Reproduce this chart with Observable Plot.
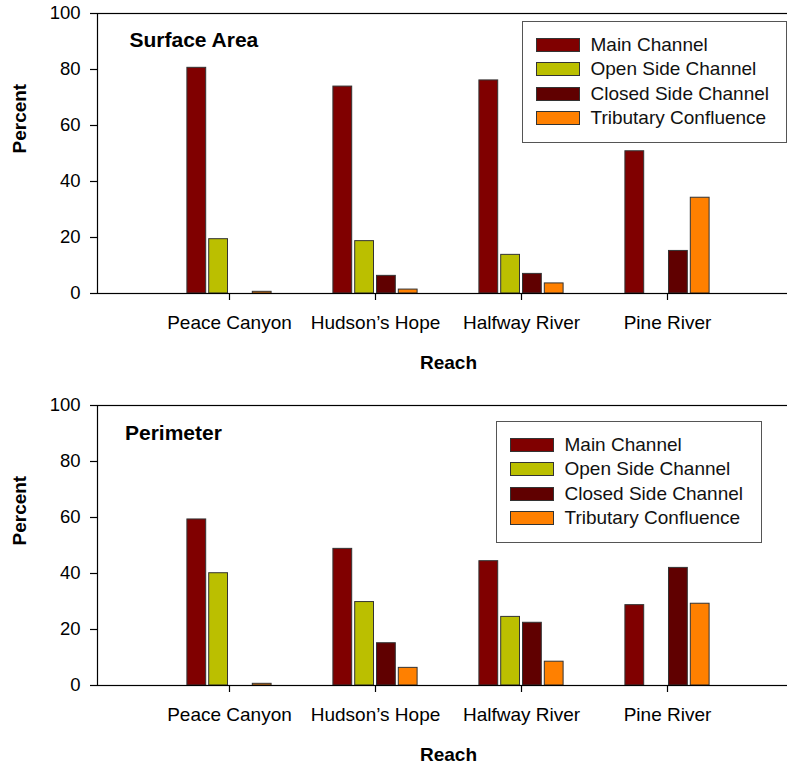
<!DOCTYPE html>
<html>
<head>
<meta charset="utf-8">
<script src="https://cdn.jsdelivr.net/npm/d3@7"></script>
<script src="https://cdn.jsdelivr.net/npm/@observablehq/plot@0.6"></script>
<style>
  html, body { margin: 0; padding: 0; background: white; overflow: hidden; }
  #root { width: 787px; height: 765px; overflow: hidden; position: relative; font-family: "Liberation Sans", Arial, sans-serif; }
  .panel { position: relative; width: 787px; overflow: hidden; }
  .panel svg { max-width: none !important; display: block; }
  .legend { position: absolute; border: 1px solid #555; background: white; box-sizing: border-box; }
  .legend .row { display: flex; align-items: center; height: 24.3px; font-size: 19px; color: #111; white-space: nowrap; }
  .legend .sw { width: 44px; height: 14px; box-sizing: border-box; border: 1px solid #333; margin-right: 11px; flex: none; }
</style>
</head>
<body>
<div id="root"></div>
<script>
const reaches = ["Peace Canyon", "Hudson\u2019s Hope", "Halfway River", "Pine River"];
const series = ["Main Channel", "Open Side Channel", "Closed Side Channel", "Tributary Confluence"];
const colors = ["#800000", "#bbbf00", "#600000", "#ff8000"];
const yTicks = [0, 20, 40, 60, 80, 100];

// Surface Area (%), per reach
const areaMain   = [80.6, 73.9, 76.1, 50.8];
const areaOpen   = [19.4, 18.7, 13.8, 0];
const areaClosed = [0, 6.3, 7.0, 15.2];
const areaTrib   = [0.6, 1.4, 3.6, 34.2];

// Perimeter (%), per reach
const perimMain   = [59.3, 48.8, 44.4, 28.7];
const perimOpen   = [40.1, 29.8, 24.5, 0];
const perimClosed = [0, 15.1, 22.4, 42.0];
const perimTrib   = [0.6, 6.3, 8.5, 29.2];

function rows(arrays) {
  const out = [];
  arrays.forEach((arr, i) => arr.forEach((v, j) => out.push({reach: reaches[j], series: series[i], value: v})));
  return out;
}

const offsets = [-32.7, -10.9, 10.9, 32.7];
const inset = 63.6;

function panel({title, data, height, marginTop, marginBottom, titleDx, titleDy, legend}) {
  const wrap = document.createElement("div");
  wrap.className = "panel";
  wrap.style.height = height + "px";
  const barMarks = series.map((s, i) => Plot.barY(data.filter(d => d.series === s && d.value > 0), {
    x: "reach", y: "value", fill: "series", stroke: "#333", strokeWidth: 1,
    insetLeft: inset, insetRight: inset, dx: offsets[i]
  }));
  const chart = Plot.plot({
    width: 799,
    height,
    marginLeft: 97,
    marginRight: 0,
    marginTop,
    marginBottom,
    style: {fontFamily: "\"Liberation Sans\", Arial, sans-serif", fontSize: "19px", color: "black", background: "transparent", maxWidth: "none"},
    x: {domain: reaches, paddingInner: 0, paddingOuter: 0.4},
    y: {domain: [0, 100]},
    color: {domain: series, range: colors},
    marks: [
      ...barMarks,
      Plot.frame({stroke: "black", strokeWidth: 1.2}),
      Plot.axisY({ticks: yTicks, tickSize: 7, tickPadding: 10, fontSize: 18.5, label: null, stroke: "black", strokeWidth: 1.2}),
      Plot.axisX({tickSize: 7, tickPadding: 15, fontSize: 19, label: null, stroke: "black", strokeWidth: 1.2}),
      Plot.text(["Percent"], {text: d => d, frameAnchor: "left", rotate: -90, dx: -78, lineAnchor: "middle", fontWeight: "bold", fontSize: 19, fill: "black"}),
      Plot.text(["Reach"], {text: d => d, frameAnchor: "bottom", dy: 69, lineAnchor: "middle", fontWeight: "bold", fontSize: 19, fill: "black"}),
      Plot.text([title], {text: d => d, frameAnchor: "top-left", textAnchor: "start", lineAnchor: "top", dx: titleDx, dy: titleDy, fontWeight: "bold", fontSize: 21, fill: "black"})
    ]
  });
  chart.style.maxWidth = "none";
  chart.style.width = "799px";
  chart.style.height = height + "px";
  wrap.appendChild(chart);
  const lg = document.createElement("div");
  lg.className = "legend";
  lg.style.left = legend.left + "px";
  lg.style.top = legend.top + "px";
  lg.style.width = legend.width + "px";
  lg.style.height = legend.height + "px";
  lg.style.padding = "11.5px 0 0 13px";
  series.forEach((s, i) => {
    const r = document.createElement("div");
    r.className = "row";
    const sw = document.createElement("span");
    sw.className = "sw";
    sw.style.background = colors[i];
    const t = document.createElement("span");
    t.textContent = s;
    r.appendChild(sw); r.appendChild(t);
    lg.appendChild(r);
  });
  wrap.appendChild(lg);
  return wrap;
}

const root = document.getElementById("root");
root.appendChild(panel({
  title: "Surface Area",
  data: rows([areaMain, areaOpen, areaClosed, areaTrib]),
  height: 390, marginTop: 13, marginBottom: 97,
  titleDx: 32, titleDy: 19,
  legend: {left: 521.5, top: 20.5, width: 265, height: 122.5}
}));
root.appendChild(panel({
  title: "Perimeter",
  data: rows([perimMain, perimOpen, perimClosed, perimTrib]),
  height: 375, marginTop: 15, marginBottom: 80,
  titleDx: 27.5, titleDy: 20,
  legend: {left: 495.5, top: 30.5, width: 266, height: 122}
}));
</script>
</body>
</html>
